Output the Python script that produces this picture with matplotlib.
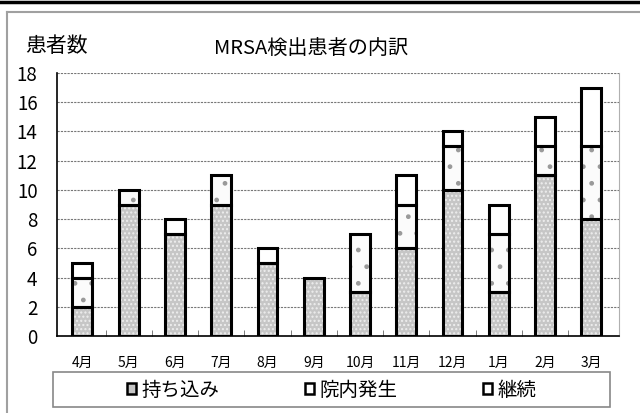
import matplotlib.pyplot as plt
from matplotlib.patches import Patch, Rectangle
from matplotlib.lines import Line2D

plt.rcParams['font.family'] = ['Noto Sans CJK JP', 'DejaVu Sans']
plt.rcParams['hatch.linewidth'] = 1.0

# data
months = ['4月', '5月', '6月', '7月', '8月', '9月', '10月', '11月', '12月', '1月', '2月', '3月']
carried_in = [2, 9, 7, 9, 5, 4, 3, 6, 10, 3, 11, 8]   # 持ち込み
hospital = [2, 1, 0, 2, 0, 0, 4, 3, 3, 4, 2, 5]       # 院内発生
continuing = [1, 0, 1, 0, 1, 0, 0, 2, 1, 2, 2, 4]     # 継続
series_names = ['持ち込み', '院内発生', '継続']

fig = plt.figure(figsize=(6.4, 4.13), dpi=100)
ax = fig.add_axes([57 / 640, 1 - 336 / 413, 562 / 640, 263 / 413])

x = list(range(len(months)))
w = 0.43
bottom2 = carried_in
bottom3 = [a + b for a, b in zip(carried_in, hospital)]

# fills first (pattern), outlines drawn on top
ax.bar(x, carried_in, w, color='#c6c6c6', edgecolor='#eeeeee', hatch='....', lw=0, zorder=2)
ax.bar(x, hospital, w, bottom=bottom2, color='#fbfbfb', edgecolor='#9a9a9a', hatch='.', lw=0, zorder=2)
ax.bar(x, continuing, w, bottom=bottom3, color='white', lw=0, zorder=2)
for vals, bot in [(carried_in, None), (hospital, bottom2), (continuing, bottom3)]:
    segs = [(xi, v, b) for xi, v, b in zip(x, vals, bot if bot else [0] * len(x)) if v > 0]
    ax.bar([s[0] for s in segs], [s[1] for s in segs], w, bottom=[s[2] for s in segs],
           fill=False, edgecolor='black', lw=2.2, zorder=3)

ax.set_ylim(0, 18)
ax.set_yticks(range(0, 19, 2))
ax.set_xlim(-0.55, 11.6)
ax.set_xticks(x)
ax.set_xticklabels(months, fontsize=10)
ax.set_xticks([i + 0.5 for i in range(11)], minor=True)
ax.tick_params(axis='x', which='major', length=0, pad=14)
ax.tick_params(axis='x', which='minor', direction='in', length=4, color='#666666')
ax.tick_params(axis='y', length=0, pad=14, labelsize=13.5)
ax.yaxis.grid(True, linestyle=(0, (2, 1)), color='#777777', lw=0.8, zorder=0)
ax.set_axisbelow(True)
ax.spines['top'].set_visible(False)
ax.spines['right'].set_color('#b0b0b0')
ax.spines['left'].set_linewidth(1.2)
ax.spines['bottom'].set_linewidth(1.2)

fig.text(25 / 640, 1 - 46 / 413, '患者数', fontsize=15, va='center', ha='left')
fig.text(311 / 640, 1 - 48 / 413, 'MRSA検出患者の内訳', fontsize=14.5, va='center', ha='center')

# legend with its own frame
fig.patches.append(Rectangle((53 / 640, 1 - 407 / 413), 557 / 640, 35 / 413,
                             transform=fig.transFigure, fill=False, edgecolor='#888888', lw=1.2))
handles = [Patch(facecolor='#c6c6c6', edgecolor='black', lw=1.8),
           Patch(facecolor='white', edgecolor='black', lw=1.8),
           Patch(facecolor='white', edgecolor='black', lw=1.8)]
fig.legend(handles, series_names, loc='center', bbox_to_anchor=(332 / 640, 1 - 390 / 413),
           ncol=3, frameon=False, fontsize=14, handlelength=0.45, handleheight=0.45,
           handletextpad=0.3, columnspacing=4.4)

# outer frame lines
fig.add_artist(Line2D([0, 1], [1 - 1.5 / 413, 1 - 1.5 / 413], color='black', lw=2.5))
fig.add_artist(Line2D([7 / 640, 1], [1 - 11.5 / 413, 1 - 11.5 / 413], color='#a0a0a0', lw=1.5))
fig.add_artist(Line2D([7 / 640, 7 / 640], [1 - 11.5 / 413, 0], color='#a0a0a0', lw=1.5))

fig.savefig('out.png', dpi=100)
